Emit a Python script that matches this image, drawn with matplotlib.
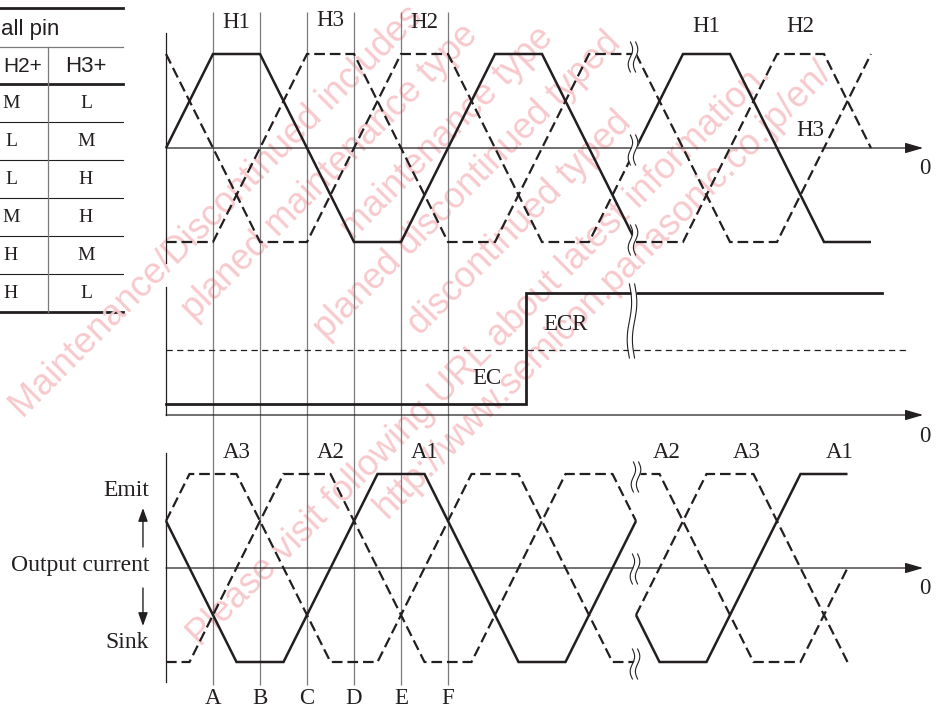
import numpy as np
import matplotlib
matplotlib.use("Agg")
import matplotlib.pyplot as plt

plt.rcParams['font.family'] = ['Liberation Serif', 'DejaVu Serif']

W, H = 942, 709
X0, STEP = 166, 47      # pixel column of t=0 and pixels per 30-degree step
AMP = 94                # pixels per unit level
INK = '#231f20'
GRID = '#7a7a7a'
PINK = '#f7c9cc'

# ---- hall inputs, t in 30-degree steps, level in -1..1 ----
h1_t = [0, 1, 2, 4, 5, 7, 8, 9.93]
h1_v = [0, 1, 1, -1, -1, 1, 1, -0.93]
h2_t = [0, 2, 3, 5, 6, 8, 9, 9.93]
h2_v = [1, -1, -1, 1, 1, -1, -1, -0.07]
h3_t = [0, 1, 3, 4, 6, 7, 9, 9.93]
h3_v = [-1, -1, 1, 1, -1, -1, 1, 1]
# after the break (reverse rotation)
h1r_t = [10, 11, 12, 14, 15]
h1r_v = [0, 1, 1, -1, -1]
h2r_t = [10, 11, 13, 14, 15]
h2r_v = [-1, -1, 1, 1, 0]
h3r_t = [10, 12, 13, 15]
h3r_v = [1, -1, -1, 1]

# ---- EC / ECR ----
ec_t = [0, 7.66, 7.66, 15.23]
ec_v = [0.12, 0.12, 1.30, 1.30]
ecr_t = [0, 15.79]
ecr_v = [0.69, 0.69]

# ---- output currents ----
a1_t = [0, 1.5, 2.5, 4.5, 5.5, 7.5, 8.5, 10]
a1_v = [0.5, -1, -1, 1, 1, -1, -1, 0.5]
a2_t = [0, 0.5, 2.5, 3.5, 5.5, 6.5, 8.5, 9.5, 10]
a2_v = [-1, -1, 1, 1, -1, -1, 1, 1, 0.5]
a3_t = [0, 0.5, 1.5, 3.5, 4.5, 6.5, 7.5, 9.5, 10]
a3_v = [0.5, 1, 1, -1, -1, 1, 1, -1, -1]
a1r_t = [10, 10.5, 11.5, 13.5, 14.5]
a1r_v = [-0.5, -1, -1, 1, 1]
a2r_t = [10, 10.5, 12.5, 13.5, 14.5]
a2r_v = [1, 1, -1, -1, 0]
a3r_t = [10, 11.5, 12.5, 14.5]
a3r_v = [-0.5, 1, 1, -1]

# timing marks A..F
mark_t = [1, 2, 3, 4, 5, 6]
mark_lbl = ['A', 'B', 'C', 'D', 'E', 'F']

# hall pin table
tbl_head = ['H2+', 'H3+']
tbl_h2 = ['M', 'L', 'L', 'M', 'H', 'H']
tbl_h3 = ['L', 'M', 'H', 'H', 'M', 'L']

# notice lines: text, offset across the slant, offset along it (pixels)
wm_lines = [
    ("Maintenance/Discontinued includes", 312, -280),
    ("planed maintenance type", 365, -90),
    ("maintenance type", 420, 80),
    ("planed discontinued typed", 472, -10),
    ("discontinued typed", 535, 60),
    ("Please visit following URL about latest information.", 599, -316),
    ("http://www.semicon.panasonic.co.jp/en/", 641, -94),
]
WM_ANGLE = 45

fig = plt.figure(figsize=(W / 100, H / 100), dpi=100)
t_lim = (-X0 / STEP, (W - X0) / STEP)
sans = ['Liberation Sans', 'DejaVu Sans']

# pixel layer: notice text and table
ax_px = fig.add_axes([0, 0, 1, 1])
ax_px.set_xlim(0, W)
ax_px.set_ylim(H, 0)
ax_px.axis('off')
a = np.radians(WM_ANGLE)
n_vec = np.array([np.sin(a), np.cos(a)])
d_vec = np.array([np.cos(a), -np.sin(a)])
for txt, c, s in wm_lines:
    x, y = c * n_vec + s * d_vec
    ax_px.text(x, y, txt, color=PINK, fontsize=26, rotation=WM_ANGLE,
               rotation_mode='anchor', ha='left', va='baseline',
               family=sans, clip_on=True)

ax_px.plot([0, 123], [8, 8], color=INK, lw=2.0)
ax_px.plot([0, 123], [47, 47], color=GRID, lw=0.9)
ax_px.plot([0, 123], [84, 84], color=INK, lw=2.0)
for i in range(1, 6):
    ax_px.plot([0, 123], [84 + 38 * i, 84 + 38 * i], color=INK, lw=0.8)
ax_px.plot([0, 123], [312, 312], color=INK, lw=2.0)
ax_px.plot([48, 48], [47, 312], color=GRID, lw=0.9)
ax_px.text(1, 29, 'all pin', family=sans, fontsize=16, color=INK,
           ha='left', va='center')
ax_px.text(23, 66, tbl_head[0], family=sans, fontsize=15, color=INK,
           ha='center', va='center')
ax_px.text(86, 66, tbl_head[1], family=sans, fontsize=16, color=INK,
           ha='center', va='center')
for i, (c2, c3) in enumerate(zip(tbl_h2, tbl_h3)):
    ax_px.text(11, 104 + 38 * i, c2, fontsize=14, color=INK,
               ha='center', va='center')
    ax_px.text(86, 104 + 38 * i, c3, fontsize=14, color=INK,
               ha='center', va='center')

# phase grid and labels, x in steps, y in pixel rows
ax_grid = fig.add_axes([0, 0, 1, 1])
ax_grid.set_xlim(*t_lim)
ax_grid.set_ylim(H, 0)
ax_grid.axis('off')
ax_grid.vlines(mark_t, 12, 685, color=GRID, lw=0.9)
for t, lb in zip(mark_t, mark_lbl):
    ax_grid.text(t, 698, lb, fontsize=16.5, color=INK, ha='center', va='center')

lab = dict(fontsize=16.5, color=INK, ha='center', va='center')
for t, y, s in [(1.5, 22, 'H1'), (3.5, 21, 'H3'), (5.5, 22, 'H2'),
                (11.5, 26, 'H1'), (13.5, 26, 'H2'), (13.7, 130, 'H3'),
                (1.5, 452, 'A3'), (3.5, 452, 'A2'), (5.5, 452, 'A1'),
                (10.66, 452, 'A2'), (12.36, 452, 'A3'), (14.34, 452, 'A1'),
                (8.49, 324, 'ECR'), (6.83, 379, 'EC'),
                (16.15, 168, '0'), (16.15, 437, '0'), (16.15, 588, '0')]:
    ax_grid.text(t, y, s, **lab)

side = dict(fontsize=17, color=INK, ha='right', va='center')
ax_grid.text(-0.36, 491, 'Emit', **side)
ax_grid.text(-0.36, 566, 'Output current', **side)
ax_grid.text(-0.36, 643, 'Sink', **side)
small_arrow = dict(arrowstyle='-|>,head_length=0.5,head_width=0.18',
                   color=INK, lw=1.0, shrinkA=0, shrinkB=0, mutation_scale=16)
ax_grid.annotate('', xy=(-0.49, 508), xytext=(-0.49, 547), arrowprops=small_arrow)
ax_grid.annotate('', xy=(-0.49, 626), xytext=(-0.49, 588), arrowprops=small_arrow)


def panel(y_top, y_bot, y_zero):
    ax = fig.add_axes([0, 1 - y_bot / H, 1, (y_bot - y_top) / H])
    ax.set_xlim(*t_lim)
    ax.set_ylim((y_zero - y_bot) / AMP, (y_zero - y_top) / AMP)
    ax.axis('off')
    return ax


axis_arrow = dict(arrowstyle='-|>,head_length=0.55,head_width=0.16',
                  color=INK, lw=0.9, shrinkA=0, shrinkB=0, mutation_scale=20)
T_END = 16.11

solid = dict(color=INK, lw=1.8, solid_joinstyle='miter', solid_capstyle='butt')
dash = dict(color=INK, lw=1.6, ls=(0, (4.8, 2.2)), dash_joinstyle='miter')

# top: hall signals
ax_h = panel(0, 280, 148)
ax_h.plot([0, 0], [1.223, -1.223], color=INK, lw=0.9)
ax_h.annotate('', xy=(T_END, 0), xytext=(0, 0), arrowprops=axis_arrow)
ax_h.plot(h1_t, h1_v, **solid)
ax_h.plot(h2_t, h2_v, **dash)
ax_h.plot(h3_t, h3_v, **dash)
ax_h.plot(h1r_t, h1r_v, **solid)
ax_h.plot(h2r_t, h2r_v, **dash)
ax_h.plot(h3r_t, h3r_v, **dash)

# middle: EC vs ECR
ax_e = panel(280, 440, 415)
ax_e.plot([0, 0], [0, 1.36], color=INK, lw=0.9)
ax_e.annotate('', xy=(T_END, 0), xytext=(0, 0), arrowprops=axis_arrow)
ax_e.plot(ecr_t, ecr_v, color=INK, lw=0.9, ls=(0, (5, 3.5)))
ax_e.plot(ec_t, ec_v, color=INK, lw=2.0, solid_joinstyle='miter')

# bottom: output currents
ax_a = panel(440, 709, 568)
ax_a.plot([0, 0], [1.223, -1.213], color=INK, lw=0.9)
ax_a.annotate('', xy=(T_END, 0), xytext=(0, 0), arrowprops=axis_arrow)
ax_a.plot(a1_t, a1_v, **solid)
ax_a.plot(a2_t, a2_v, **dash)
ax_a.plot(a3_t, a3_v, **dash)
ax_a.plot(a1r_t, a1r_v, **solid)
ax_a.plot(a2r_t, a2r_v, **dash)
ax_a.plot(a3r_t, a3r_v, **dash)

# time-axis break marks
ax_b = fig.add_axes([0, 0, 1, 1])
ax_b.set_xlim(0, W)
ax_b.set_ylim(H, 0)
ax_b.axis('off')
breaks = [(633, 42, 72), (633, 135, 165), (633, 225, 255), (632, 284, 358),
          (636, 462, 492), (635, 554, 584), (635, 649, 679)]
for xc, y0, y1 in breaks:
    yy = np.linspace(y0, y1, 60)
    wob = 2.2 * np.sin(2 * np.pi * (yy - y0) / (y1 - y0))
    ax_b.fill_betweenx(yy, xc - 2.6 + wob, xc + 2.6 + wob, color='white', lw=0)
    ax_b.plot(xc - 2.6 + wob, yy, color=INK, lw=0.8)
    ax_b.plot(xc + 2.6 + wob, yy, color=INK, lw=0.8)

fig.savefig('out.png', dpi=100)
